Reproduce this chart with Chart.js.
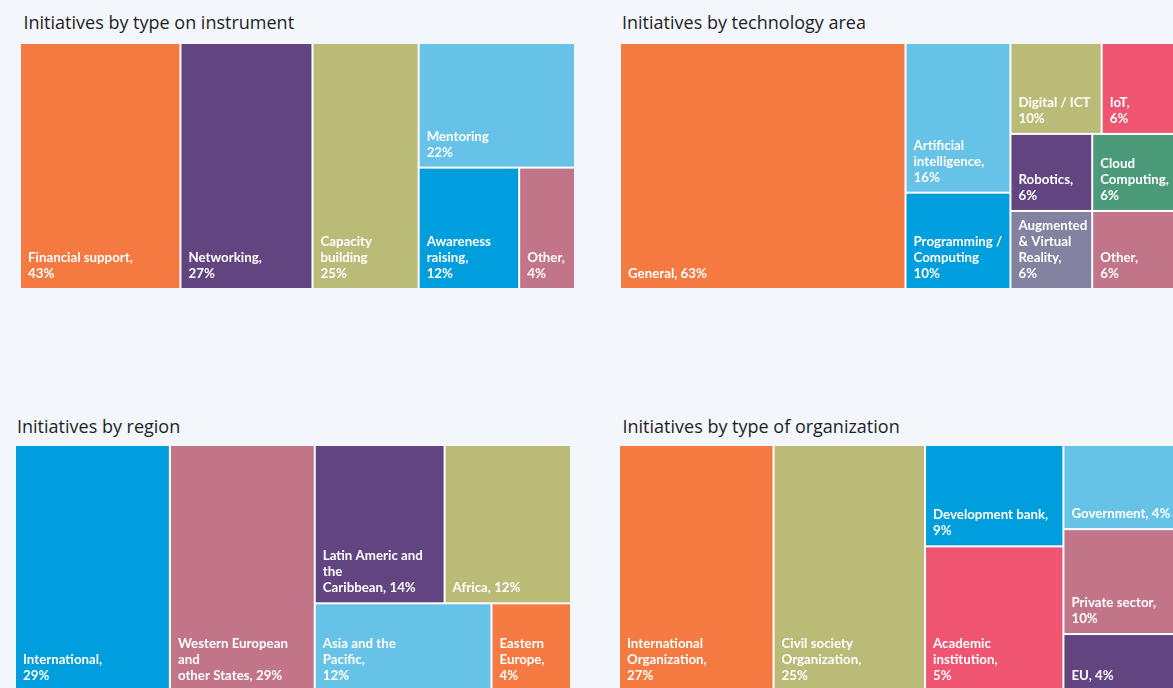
<!DOCTYPE html>
<html>
<head>
<meta charset="utf-8">
<title>Initiatives treemaps</title>
<script src="https://cdn.jsdelivr.net/npm/chart.js@4.4.1/dist/chart.umd.min.js"></script>
<style>
  html, body { margin: 0; padding: 0; background: #f3f6fb; width: 1173px; height: 688px; overflow: hidden; }
  .title { position: absolute; font-family: "Open Sans", Lato, sans-serif; font-size: 18px; line-height: 21px; color: #1f1f1f; white-space: nowrap; }
  .box { position: absolute; }
  .box canvas { display: block; }
</style>
</head>
<body>
<div class="title" style="left:23.5px; top:11.8px">Initiatives by type on instrument</div>
<div class="title" style="left:622px; top:11.8px">Initiatives by technology area</div>
<div class="title" style="left:17px; top:415.8px">Initiatives by region</div>
<div class="title" style="left:622.5px; top:415.8px">Initiatives by type of organization</div>

<div class="box" style="left:21px; top:44px; width:553px; height:244px"><canvas id="instrumentChart"></canvas></div>
<div class="box" style="left:621px; top:44px; width:553px; height:244px"><canvas id="technologyChart"></canvas></div>
<div class="box" style="left:16px; top:446px; width:554px; height:244px"><canvas id="regionChart"></canvas></div>
<div class="box" style="left:620px; top:446px; width:572px; height:244px"><canvas id="organizationChart"></canvas></div>

<script>
// ---- data: label text ({v} = share), share in %, cell size ----
const instrumentLabels = ["Financial support,\n{v}", "Networking,\n{v}", "Capacity\nbuilding\n{v}", "Mentoring\n{v}", "Awareness\nraising,\n{v}", "Other,\n{v}"];
const instrumentShares = [43, 27, 25, 22, 12, 4];
const instrumentSizes = [389, 322, 259, 192, 121, 66];

const technologyLabels = ["General, {v}", "Artificial\nintelligence,\n{v}", "Programming /\nComputing\n{v}", "Digital / ICT\n{v}", "IoT,\n{v}", "Robotics,\n{v}", "Augmented\n& Virtual\nReality,\n{v}", "Cloud\nComputing,\n{v}", "Other,\n{v}"];
const technologyShares = [63, 16, 10, 10, 6, 6, 6, 6, 6];
const technologySizes = [694, 156, 100, 82, 65, 63, 63, 63, 63];

const regionLabels = ["International,\n{v}", "Western European\nand\nother States, {v}", "Latin Americ and\nthe\nCaribbean, {v}", "Africa, {v}", "Asia and the\nPacific,\n{v}", "Eastern\nEurope,\n{v}"];
const regionShares = [29, 29, 14, 12, 12, 4];
const regionSizes = [375, 353, 204, 197, 153, 68];

const organizationLabels = ["International\nOrganization,\n{v}", "Civil society\nOrganization,\n{v}", "Development bank,\n{v}", "Academic\ninstitution,\n{v}", "Government, {v}", "Private sector,\n{v}", "EU, {v}"];
const organizationShares = [27, 25, 9, 5, 4, 10, 4];
const organizationSizes = [375, 370, 139, 199, 107, 135, 72];

// ---- colours ----
const ORANGE = "#f47a42", PURPLE = "#624480", OLIVE = "#bbbb78", SKY = "#67c2e8", BLUE = "#009edc",
      MAUVE = "#c27489", ROSE = "#ef5470", GREEN = "#4b9b7a", SLATE = "#8383a1";
const instrumentColors = [ORANGE, PURPLE, OLIVE, SKY, BLUE, MAUVE];
const technologyColors = [ORANGE, SKY, BLUE, OLIVE, ROSE, PURPLE, SLATE, GREEN, MAUVE];
const regionColors = [BLUE, MAUVE, PURPLE, OLIVE, SKY, ORANGE];
const organizationColors = [ORANGE, OLIVE, BLUE, ROSE, SKY, MAUVE, PURPLE];

// squarified tiling (rows in data order), ratio < 1 favours tall cells
function squarify(values, x0, y0, x1, y1, ratio, bias) {
  const cells = [];
  const n = values.length;
  let value = values.reduce((a, b) => a + b, 0);
  let i0 = 0;
  while (i0 < n) {
    const dx = x1 - x0, dy = y1 - y0;
    let i1 = i0;
    let sum = values[i1++];
    let minV = sum, maxV = sum;
    const alpha = Math.max(dy / dx, dx / dy) / (value * ratio);
    let beta = sum * sum * alpha;
    let minRatio = Math.max(maxV / beta, beta / minV);
    for (; i1 < n; i1++) {
      const v = values[i1];
      sum += v;
      if (v < minV) minV = v;
      if (v > maxV) maxV = v;
      beta = sum * sum * alpha;
      const newRatio = Math.max(maxV / beta, beta / minV);
      if (newRatio > minRatio) { sum -= v; break; }
      minRatio = newRatio;
    }
    if (dx < dy * bias) {
      const h = i1 >= n ? dy : dy * sum / value;
      let x = x0;
      for (let k = i0; k < i1; k++) {
        const w = dx * values[k] / sum;
        cells[k] = { x0: x, x1: x + w, y0: y0, y1: y0 + h };
        x += w;
      }
      y0 += h;
    } else {
      const w = i1 >= n ? dx : dx * sum / value;
      let y = y0;
      for (let k = i0; k < i1; k++) {
        const h = dy * values[k] / sum;
        cells[k] = { x0: x0, x1: x0 + w, y0: y, y1: y + h };
        y += h;
      }
      x0 += w;
    }
    value -= sum;
    i0 = i1;
  }
  return cells;
}

// draws the cells and their labels with the chart's own scales
const treemapCells = {
  id: "treemapCells",
  afterDatasetsDraw(chart) {
    const { ctx, chartArea, scales: { x, y } } = chart;
    const gap = 1;
    ctx.save();
    ctx.fillStyle = "#ffffff";
    ctx.fillRect(chartArea.left, chartArea.top, chartArea.right - chartArea.left, chartArea.bottom - chartArea.top);
    chart.data.datasets[0].data.forEach(c => {
      let left = x.getPixelForValue(c.x0), right = x.getPixelForValue(c.x1);
      let top = y.getPixelForValue(c.y0), bottom = y.getPixelForValue(c.y1);
      if (left > chartArea.left + 0.5) left += gap;
      if (right < chartArea.right - 0.5) right -= gap;
      if (top > chartArea.top + 0.5) top += gap;
      if (bottom < chartArea.bottom - 0.5) bottom -= gap;
      ctx.fillStyle = c.color;
      ctx.fillRect(left, top, right - left, bottom - top);

      const lines = c.text.split("\n");
      ctx.fillStyle = "#ffffff";
      ctx.font = "bold 13.3px Lato, 'Open Sans', sans-serif";
      ctx.textAlign = "left";
      ctx.textBaseline = "alphabetic";
      lines.forEach((line, k) => {
        ctx.fillText(line, left + 7, bottom - 10 - (lines.length - 1 - k) * 16);
      });
    });
    ctx.restore();
  }
};

function treemapChart(id, labels, shares, sizes, colors) {
  const canvas = document.getElementById(id);
  const W = canvas.parentElement.clientWidth;
  const H = canvas.parentElement.clientHeight;
  canvas.width = W;
  canvas.height = H;
  const rects = squarify(sizes, 0, 0, W, H, 0.75, 1.054);
  const points = rects.map((r, i) => ({
    x: (r.x0 + r.x1) / 2,
    y: (r.y0 + r.y1) / 2,
    x0: r.x0, x1: r.x1, y0: r.y0, y1: r.y1,
    text: labels[i].replace("{v}", shares[i] + "%"),
    color: colors[i]
  }));
  return new Chart(canvas, {
    type: "scatter",
    data: { datasets: [{ data: points, pointRadius: 0, pointHoverRadius: 0, pointBorderWidth: 0 }] },
    options: {
      responsive: false,
      animation: false,
      events: [],
      layout: { padding: 0, autoPadding: false },
      plugins: { legend: { display: false }, tooltip: { enabled: false } },
      scales: {
        x: { type: "linear", min: 0, max: W, display: false },
        y: { type: "linear", min: 0, max: H, reverse: true, display: false }
      }
    },
    plugins: [treemapCells]
  });
}

treemapChart("instrumentChart", instrumentLabels, instrumentShares, instrumentSizes, instrumentColors);
treemapChart("technologyChart", technologyLabels, technologyShares, technologySizes, technologyColors);
treemapChart("regionChart", regionLabels, regionShares, regionSizes, regionColors);
treemapChart("organizationChart", organizationLabels, organizationShares, organizationSizes, organizationColors);
</script>
</body>
</html>
